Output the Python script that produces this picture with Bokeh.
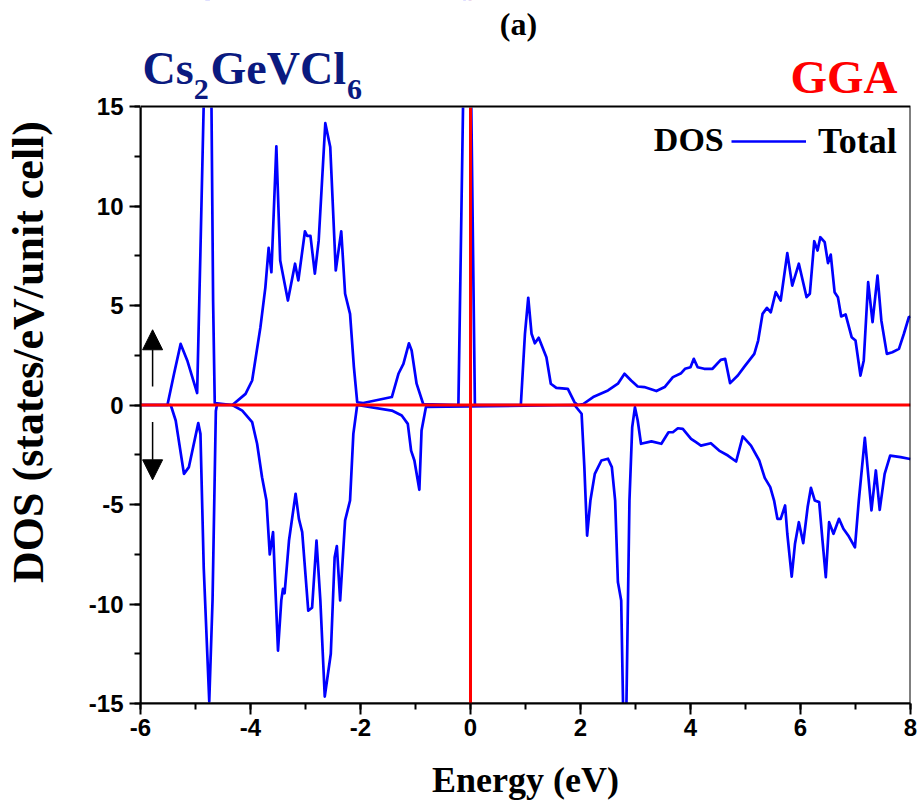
from bokeh.plotting import figure
from bokeh.models import (Range1d, Span, Label, Legend, LegendItem, Arrow, NormalHead,
                          SingleIntervalTicker, CustomJSTickFormatter, BoxAnnotation)
from bokeh.embed import file_html
from bokeh.resources import INLINE

# ---------------- data ----------------
energy_up = [
    -6.0, -5.51, -5.39, -5.27, -5.15, -4.97, -4.91, -4.85, -4.78, -4.71,
    -4.68, -4.65, -4.33, -4.09, -3.97, -3.82, -3.73, -3.67, -3.62, -3.53,
    -3.46, -3.32, -3.19, -3.13, -3.01, -2.97, -2.91, -2.83, -2.76, -2.64,
    -2.55, -2.45, -2.35, -2.28, -2.19, -2.12, -2.06, -1.95, -1.43, -1.31,
    -1.22, -1.12, -1.07, -0.98, -0.86, -0.22, -0.13, -0.06, 0.01, 0.08,
    0.915, 0.99, 1.05, 1.11, 1.17, 1.24, 1.38, 1.46, 1.56, 1.77,
    1.89, 1.95, 2.05, 2.23, 2.50, 2.68, 2.80, 2.92, 3.04, 3.16,
    3.38, 3.53, 3.68, 3.83, 3.90, 4.00, 4.06, 4.13, 4.25, 4.40,
    4.55, 4.63, 4.72, 4.86, 4.98, 5.16, 5.23, 5.31, 5.39, 5.46,
    5.55, 5.64, 5.76, 5.85, 5.97, 6.11, 6.17, 6.25, 6.31, 6.36,
    6.44, 6.50, 6.55, 6.62, 6.68, 6.74, 6.82, 6.93, 7.00, 7.09,
    7.15, 7.23, 7.31, 7.40, 7.47, 7.57, 7.67, 7.79, 7.88, 7.97,
    8.0,
]
dos_up = [
    0, 0, 1.57, 3.07, 2.24, 0.6, 7.76, 15.2, 22, 15.2,
    5.25, 0.1, 0, 0.56, 1.23, 3.9, 5.9, 7.9, 6.67, 13.0,
    7.26, 5.25, 7.1, 6.26, 8.73, 8.5, 8.5, 6.6, 8.27, 14.16,
    12.96, 6.76, 8.73, 5.59, 4.58, 1.9, 0.14, 0.1, 0.4, 1.57,
    2.07, 3.1, 2.74, 1.07, 0.05, 0, 16, 30, 16, 0,
    0, 3.58, 5.39, 3.58, 3.1, 3.38, 2.4, 1.07, 0.86, 0.81,
    0.14, 0, 0.05, 0.4, 0.73, 1.07, 1.57, 1.23, 0.93, 0.9,
    0.7, 0.9, 1.4, 1.6, 1.82, 1.9, 2.32, 1.9, 1.82, 1.82,
    2.27, 2.32, 1.1, 1.48, 1.93, 2.57, 3.24, 4.58, 4.88, 4.66,
    5.67, 5.25, 7.63, 6.0, 7.1, 5.42, 5.59, 8.23, 7.76, 8.43,
    8.18, 7.13, 7.56, 5.67, 5.42, 4.45, 4.55, 3.41, 3.24, 1.48,
    2.24, 6.17, 4.16, 6.5, 4.25, 2.57, 2.65, 2.82, 3.58, 4.41,
    4.45,
]
energy_dn = [
    -6.0, -5.45, -5.36, -5.21, -5.12, -4.95, -4.91, -4.85, -4.75, -4.69,
    -4.63, -4.61, -4.33, -4.15, -3.97, -3.88, -3.79, -3.71, -3.65, -3.59,
    -3.50, -3.44, -3.41, -3.38, -3.30, -3.18, -3.12, -3.06, -2.95, -2.88,
    -2.80, -2.73, -2.65, -2.54, -2.47, -2.43, -2.37, -2.28, -2.19, -2.13,
    -2.06, -1.95, -1.43, -1.25, -1.14, -1.08, -1.02, -0.93, -0.89, -0.81,
    1.89, 2.02, 2.07, 2.12, 2.18, 2.26, 2.38, 2.50, 2.57, 2.63,
    2.68, 2.74, 2.78, 2.805, 2.83, 2.89, 2.94, 2.99, 3.04, 3.10,
    3.29, 3.47, 3.60, 3.68, 3.77, 3.86, 4.01, 4.10, 4.19, 4.37,
    4.52, 4.68, 4.83, 4.95, 5.10, 5.25, 5.35, 5.45, 5.52, 5.58,
    5.64, 5.72, 5.76, 5.84, 5.90, 5.97, 6.05, 6.13, 6.19, 6.26,
    6.34, 6.40, 6.46, 6.52, 6.60, 6.70, 6.78, 6.88, 6.99, 7.06,
    7.17, 7.29, 7.37, 7.44, 7.53, 7.63, 7.82, 7.97, 8.0,
]
dos_dn = [
    0, 0, -0.78, -3.46, -3.12, -0.91, -1.45, -8.2, -14.9, -9.8,
    -0.3, 0, 0, -0.28, -0.86, -1.95, -3.63, -4.8, -7.51, -6.39,
    -12.34, -9.82, -9.24, -9.46, -6.81, -4.46, -5.72, -6.39, -10.33, -10.19,
    -6.81, -9.82, -14.65, -12.5, -7.65, -7.09, -9.82, -5.8, -4.8, -1.45,
    0, -0.05, -0.28, -0.53, -0.95, -2.29, -2.79, -4.26, -1.28, -0.1,
    0, -0.44, -3.12, -6.56, -4.8, -3.46, -2.79, -2.7, -3.12, -4.8,
    -8.9, -9.82, -16, -22, -16, -4.8, -1.11, -0.11, -0.78, -1.95,
    -1.83, -1.95, -1.37, -1.37, -1.17, -1.2, -1.7, -1.87, -2.04, -1.92,
    -2.29, -2.54, -2.84, -1.58, -2.04, -2.79, -3.66, -4.13, -4.8, -5.72,
    -5.72, -5.05, -6.47, -8.62, -6.97, -5.89, -6.94, -5.13, -4.16, -4.8,
    -4.88, -6.81, -8.65, -5.89, -6.47, -5.72, -6.22, -6.61, -7.15, -4.8,
    -1.65, -5.3, -3.29, -5.27, -3.46, -2.54, -2.62, -2.7, -2.72,
]
assert len(energy_up) == len(dos_up)
assert len(energy_dn) == len(dos_dn)

# spin arrows (x, y_start, y_end)
arrow_up = (-5.78, 0.93, 3.78)
arrow_dn = (-5.78, -0.86, -3.76)

x_limits = (-6, 8)
y_limits = (-15, 15)

SERIF = "Liberation Serif"
SANS = "Liberation Sans"
NAVY = "#0a1a80"

# layout (pixels): plot box 772 x 597, with a 106 px heading band above it
BOX_H = 597
HEAD_H = 106
y_per_px = (y_limits[1] - y_limits[0]) / BOX_H
y_view_top = y_limits[1] + HEAD_H * y_per_px

p = figure(width=918, height=807, output_backend="svg", toolbar_location=None,
           x_range=Range1d(*x_limits), y_range=Range1d(y_limits[0], y_view_top),
           min_border_left=138, min_border_right=8,
           min_border_top=0, min_border_bottom=104)
p.background_fill_color = "white"
p.border_fill_color = "white"
p.outline_line_color = None
p.xgrid.visible = False
p.ygrid.visible = False

r_up = p.line(energy_up, dos_up, line_color="#0000ff", line_width=2.7, line_join="round")
r_dn = p.line(energy_dn, dos_dn, line_color="#0000ff", line_width=2.7, line_join="round")

# zero lines
p.add_layout(Span(location=0, dimension="width", line_color="#ff0000", line_width=3))
p.add_layout(Span(location=0, dimension="height", line_color="#ff0000", line_width=3))

# heading band above the box (hides what goes beyond the y limit)
p.add_layout(BoxAnnotation(bottom=y_limits[1], top=y_view_top + 50,
                           left=x_limits[0] - 50, right=x_limits[1] + 50,
                           fill_color="white", fill_alpha=1.0,
                           line_color="white", line_alpha=1.0, line_width=2))
# plot box
p.add_layout(BoxAnnotation(left=x_limits[0], right=x_limits[1],
                           bottom=y_limits[0], top=y_limits[1],
                           fill_alpha=0, line_color="black", line_width=2, line_alpha=1.0))

# axes
p.xaxis.ticker = SingleIntervalTicker(interval=2, num_minor_ticks=2)
p.yaxis.ticker = SingleIntervalTicker(interval=5, num_minor_ticks=2)
p.yaxis.bounds = y_limits
for ax in (p.xaxis[0], p.yaxis[0]):
    ax.formatter = CustomJSTickFormatter(code="return tick.toFixed(0);")
    ax.axis_line_width = 2
    ax.axis_line_color = "black"
    ax.major_tick_line_width = 2
    ax.minor_tick_line_width = 2
    ax.major_tick_in = 0
    ax.major_tick_out = 11
    ax.minor_tick_in = 0
    ax.minor_tick_out = 6
    ax.major_label_text_font = SANS
    ax.major_label_text_font_style = "bold"
    ax.major_label_text_font_size = "24px"
    ax.major_label_text_color = "black"
    ax.axis_label_text_font = SERIF
    ax.axis_label_text_font_style = "bold"
    ax.axis_label_text_color = "black"

p.xaxis.axis_label = "Energy (eV)"
p.xaxis.axis_label_text_font_size = "36px"
p.xaxis.major_label_standoff = 4
p.xaxis.axis_label_standoff = 21

p.yaxis.axis_label = "DOS (states/eV/unit cell)"
p.yaxis.axis_label_text_font_size = "44px"
p.yaxis.major_label_standoff = 6
p.yaxis.axis_label_standoff = 33

# legend (position in px from the frame's lower-left corner)
legend = Legend(items=[LegendItem(label="Total", renderers=[r_up])],
                location=(586, 536), margin=0, padding=5, spacing=0,
                glyph_width=75, glyph_height=20, label_standoff=12,
                label_text_font=SERIF, label_text_font_style="bold",
                label_text_font_size="36px", label_text_color="black",
                border_line_alpha=0, background_fill_alpha=0)
p.add_layout(legend)


def add_label(x, y, text, size, color="black", align="left"):
    p.add_layout(Label(x=x, y=y, text=text, text_font=SERIF, text_font_style="bold",
                       text_font_size=size, text_color=color, text_align=align,
                       text_baseline="middle"))


add_label(3.334, 13.32, "DOS", "34px")
add_label(0.873, 19.146, "(a)", "32px", align="center")
add_label(-5.964, 16.889, "Cs", "46px", color=NAVY)
add_label(-5.030, 15.844, "2", "30px", color=NAVY)
add_label(-4.727, 16.889, "GeVCl", "46px", color=NAVY)
add_label(-2.246, 15.844, "6", "30px", color=NAVY)
add_label(7.764, 16.503, "GGA", "47px", color="#ff0000", align="right")

# spin arrows
for (ax_, y0, y1) in (arrow_up, arrow_dn):
    p.add_layout(Arrow(end=NormalHead(size=20, fill_color="black", line_color="black"),
                       x_start=ax_, y_start=y0, x_end=ax_, y_end=y1,
                       line_color="black", line_width=1.5))

# keep the very top edge of the page clean
p.add_layout(BoxAnnotation(bottom=y_view_top - 5 * y_per_px, top=y_view_top + 50,
                           left=x_limits[0] - 50, right=x_limits[1] + 50,
                           fill_color="white", fill_alpha=1.0, line_alpha=0))

open("out.html", "w").write(file_html(p, INLINE))
